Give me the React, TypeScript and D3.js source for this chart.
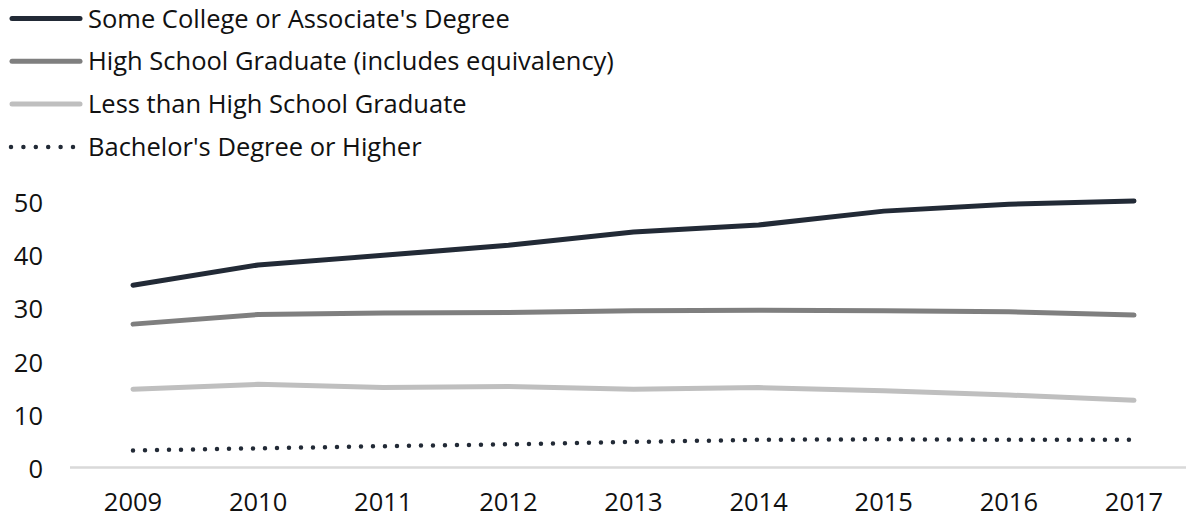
import React from "react";
import * as d3 from "d3";

const years = [2009, 2010, 2011, 2012, 2013, 2014, 2015, 2016, 2017];
const someCollege = [34.2, 38.0, 39.8, 41.7, 44.2, 45.5, 48.1, 49.4, 50.0];
const highSchool = [26.9, 28.7, 29.0, 29.1, 29.4, 29.5, 29.4, 29.2, 28.6];
const lessThanHS = [14.7, 15.6, 15.0, 15.2, 14.7, 15.0, 14.4, 13.6, 12.6];
const bachelors = [3.2, 3.6, 4.0, 4.35, 4.8, 5.2, 5.3, 5.2, 5.2];
const yTicks = [0, 10, 20, 30, 40, 50];

const seriesNames = [
  "Some College or Associate's Degree",
  "High School Graduate (includes equivalency)",
  "Less than High School Graduate",
  "Bachelor's Degree or Higher",
];

const W = 1188;
const H = 518;
const FONT = "'Open Sans', Lato, sans-serif";
const FS = 25.5;

export default function App() {
  const x = d3.scalePoint<number>().domain(years).range([133, 1134]);
  const y = d3.scaleLinear().domain([0, 50]).range([467.5, 201]);

  const series = [
    { name: seriesNames[0], values: someCollege, color: "#222a36", width: 5, dash: null },
    { name: seriesNames[1], values: highSchool, color: "#7f7f7f", width: 5, dash: null },
    { name: seriesNames[2], values: lessThanHS, color: "#bfbfbf", width: 5, dash: null },
    { name: seriesNames[3], values: bachelors, color: "#222a36", width: 4.5, dash: "0 12" },
  ];

  const line = d3
    .line<number>()
    .x((_, i) => x(years[i]) as number)
    .y((d) => y(d));

  const legendY0 = 18.5;
  const legendStep = 42.8;

  return (
    <svg
      width={W}
      height={H}
      style={{ position: "absolute", left: 0, top: 0, background: "#fff" }}
      fontFamily={FONT}
    >
      {/* legend */}
      {series.map((s, i) => {
        const ly = legendY0 + i * legendStep;
        return (
          <g key={s.name}>
            {s.dash ? (
              <line
                x1={11}
                x2={74}
                y1={ly}
                y2={ly}
                stroke={s.color}
                strokeWidth={s.width}
                strokeLinecap="round"
                strokeDasharray="0 12.4"
              />
            ) : (
              <line
                x1={12}
                x2={80}
                y1={ly}
                y2={ly}
                stroke={s.color}
                strokeWidth={s.width}
                strokeLinecap="round"
              />
            )}
            <text x={88} y={ly} dy="0.36em" fontSize={FS} fill="#111">
              {s.name}
            </text>
          </g>
        );
      })}

      {/* axis line */}
      <line x1={70} x2={1186} y1={y(0)} y2={y(0)} stroke="#d9d9d9" strokeWidth={2.5} />

      {/* y tick labels */}
      {yTicks.map((t) => (
        <text
          key={t}
          x={43}
          y={y(t) + 1.5}
          dy="0.36em"
          textAnchor="end"
          fontSize={FS}
          fill="#111"
        >
          {t}
        </text>
      ))}

      {/* x tick labels */}
      {years.map((yr) => (
        <text
          key={yr}
          x={x(yr)}
          y={502}
          dy="0.36em"
          textAnchor="middle"
          fontSize={FS}
          fill="#111"
        >
          {yr}
        </text>
      ))}

      {/* lines */}
      {series.map((s) => (
        <path
          key={s.name}
          d={line(s.values) || ""}
          fill="none"
          stroke={s.color}
          strokeWidth={s.width}
          strokeLinecap="round"
          strokeLinejoin="round"
          strokeDasharray={s.dash || undefined}
        />
      ))}
    </svg>
  );
}
